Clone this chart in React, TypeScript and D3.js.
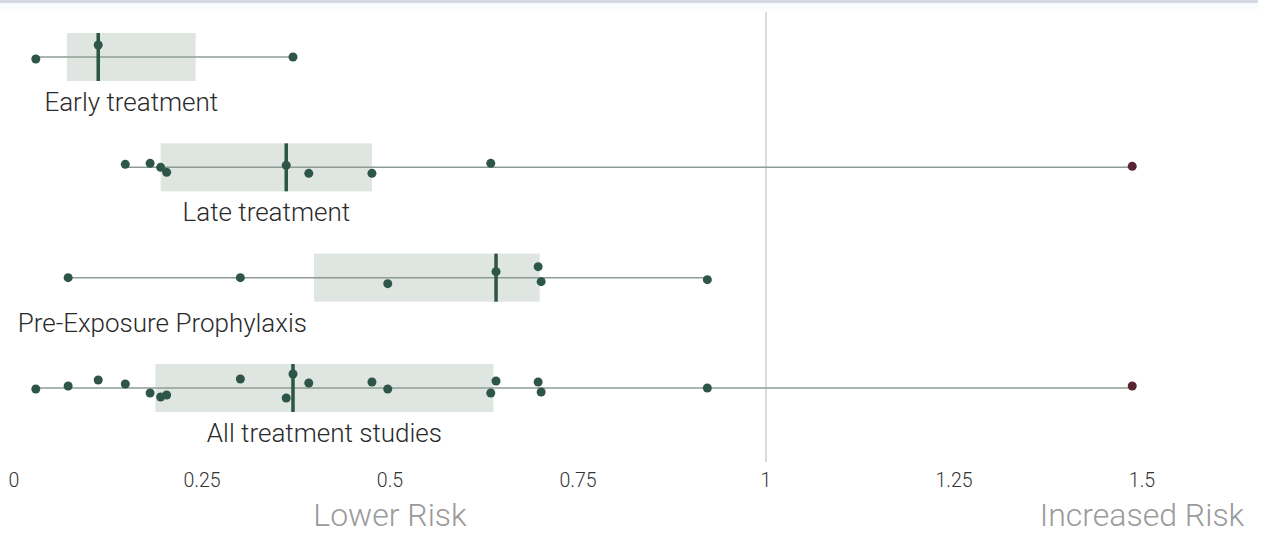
import React from "react";
import * as d3 from "d3";

// ---- data ----
const categories = ["Early treatment", "Late treatment", "Pre-Exposure Prophylaxis", "All treatment studies"];

const earlyTreatment = [0.029, 0.112, 0.371];
const lateTreatment = [0.148, 0.181, 0.195, 0.203, 0.362, 0.392, 0.476, 0.634, 1.487];
const preExposure = [0.072, 0.301, 0.497, 0.641, 0.697, 0.701, 0.922];
const allStudies = [
  0.029, 0.072, 0.112, 0.148, 0.181, 0.195, 0.203, 0.301, 0.362, 0.371,
  0.392, 0.476, 0.497, 0.634, 0.641, 0.697, 0.701, 0.922, 1.487,
];

// vertical jitter of each dot (px), visual only
const earlyJitter = [2, -12, 0];
const lateJitter = [-3, -4, 0, 5, -2, 6, 6, -4, -1];
const preJitter = [0, 0, 6, -6, -11, 4, 2];
const allJitter = [1, -2, -8, -4, 5, 9, 7, -9, 10, -14, -5, -6, 1, 5, -7, -6, 4, 0, -2];

const tickValues = [0, 0.25, 0.5, 0.75, 1, 1.25, 1.5];
const tickLabels = ["0", "0.25", "0.5", "0.75", "1", "1.25", "1.5"];

const groups = [earlyTreatment, lateTreatment, preExposure, allStudies];
const jitters = [earlyJitter, lateJitter, preJitter, allJitter];

const W = 1268;
const H = 535;
const FONT = "Roboto, 'Noto Sans', sans-serif";

export default function App() {
  const x = d3.scaleLinear().domain([0, 1.5]).range([14, 1142]);
  const y = d3.scalePoint<string>().domain(categories).range([57, 388]);
  const boxH = 48;

  return (
    <svg
      width={W}
      height={H}
      style={{ position: "absolute", left: 0, top: 0, display: "block", background: "#fff" }}
      fontFamily={FONT}
    >
      <rect x={0} y={0} width={1258} height={3} fill="#d6d8e4" />
      <rect x={0} y={3} width={1258} height={8} fill="#f7f8fa" opacity={0.6} />

      {/* reference line at 1 */}
      <line x1={x(1)} x2={x(1)} y1={12} y2={462} stroke="#cfcfcf" strokeWidth={1.5} />

      {categories.map((cat, i) => {
        const vals = groups[i];
        const sorted = vals.slice().sort(d3.ascending);
        const q1 = d3.quantile(sorted, 0.25)!;
        const med = d3.quantile(sorted, 0.5)!;
        const q3 = d3.quantile(sorted, 0.75)!;
        const [mn, mx] = d3.extent(vals) as [number, number];
        const cy = y(cat)!;
        const isPrep = cat === "Pre-Exposure Prophylaxis";
        const labelX = isPrep ? x(0.005) : (x(q1) + x(q3)) / 2;
        return (
          <g key={cat}>
            <rect x={x(q1)} y={cy - boxH / 2} width={x(q3) - x(q1)} height={boxH} fill="#dfe5e1" />
            <line x1={x(mn)} x2={x(mx)} y1={cy} y2={cy} stroke="#8f9c96" strokeWidth={1.5} />
            <line x1={x(med)} x2={x(med)} y1={cy - boxH / 2} y2={cy + boxH / 2} stroke="#2c5646" strokeWidth={3.5} />
            {vals.map((v, j) => (
              <circle
                key={j}
                cx={x(v)}
                cy={cy + jitters[i][j]}
                r={4.5}
                fill={v > 1 ? "#5a2432" : "#2e5648"}
              />
            ))}
            <text
              x={labelX}
              y={cy + 54}
              textAnchor={isPrep ? "start" : "middle"}
              fontSize={26}
              fontWeight={300}
              fill="#2a2a2a"
            >
              {cat}
            </text>
          </g>
        );
      })}

      {tickValues.map((t, i) => (
        <text key={t} x={x(t)} y={487} textAnchor="middle" fontSize={19.5} fontWeight={300} fill="#333">
          {tickLabels[i]}
        </text>
      ))}

      <text x={x(0.5)} y={526} textAnchor="middle" fontSize={32} fontWeight={300} fill="#9a9a9a">
        Lower Risk
      </text>
      <text x={x(1.5)} y={526} textAnchor="middle" fontSize={32} fontWeight={300} fill="#9a9a9a">
        Increased Risk
      </text>
    </svg>
  );
}
